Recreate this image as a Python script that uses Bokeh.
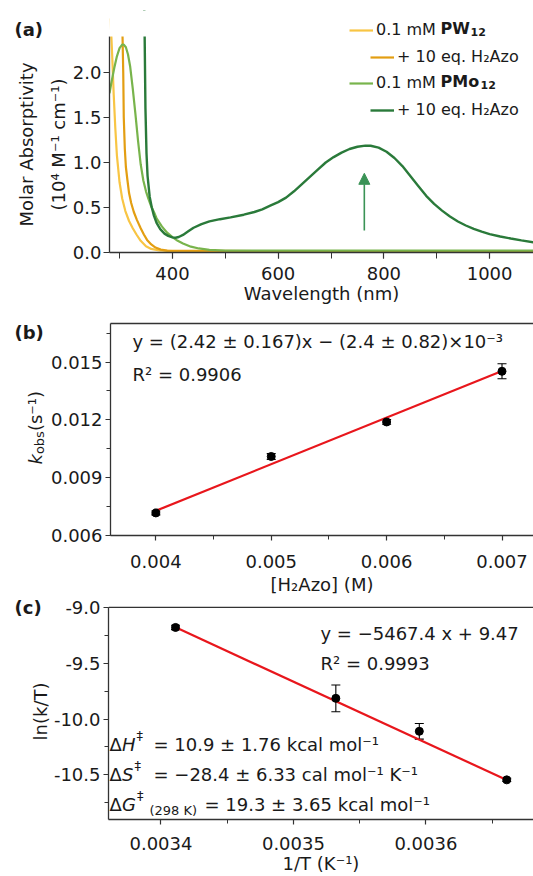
import numpy as np
from bokeh.plotting import figure
from bokeh.layouts import column, row
from bokeh.models import (ColumnDataSource, Label, Legend, LegendItem, LinearAxis, Span,
                          SingleIntervalTicker, FixedTicker, NumeralTickFormatter,
                          Range1d, Whisker, TeeHead, Arrow, NormalHead, BoxAnnotation)
from bokeh.embed import file_html
from bokeh.resources import INLINE

FONT = "DejaVu Sans"
TXT = "#1a1a1a"
AX = "#333333"

# ---------------- Panel (a) data: UV-vis spectra ----------------
wl_pw12 = [283, 286, 289, 292, 295, 300, 305, 311, 318, 325, 332, 340, 350, 360, 375, 400, 600, 800, 1000, 1083]
ab_pw12 = [2.6, 2.2, 1.75, 1.38, 1.08, 0.78, 0.6, 0.46, 0.35, 0.27, 0.2, 0.13, 0.07, 0.04, 0.022, 0.016, 0.015, 0.015, 0.015, 0.015]

wl_pw12_azo = [305, 307, 308, 310, 312, 315, 318, 322, 327, 333, 340, 346, 352, 360, 368, 378, 390, 600, 800, 1000, 1083]
ab_pw12_azo = [2.6, 2.0, 1.5, 1.15, 0.95, 0.8, 0.66, 0.55, 0.45, 0.36, 0.27, 0.2, 0.14, 0.09, 0.055, 0.032, 0.02, 0.016, 0.016, 0.016, 0.016]

wl_pmo12 = [281, 285, 290, 295, 300, 305, 308, 312, 316, 320, 325, 330, 335, 340, 345, 350, 355, 360, 365,
            370, 380, 390, 400, 410, 420, 435, 450, 470, 500, 700, 900, 1083]
ab_pmo12 = [1.77, 1.9, 2.05, 2.18, 2.27, 2.31, 2.31, 2.28, 2.2, 2.07, 1.82, 1.54, 1.24, 0.98, 0.8, 0.68, 0.59, 0.51, 0.45,
            0.38, 0.29, 0.22, 0.17, 0.13, 0.1, 0.065, 0.045, 0.03, 0.02, 0.02, 0.02, 0.02]

wl_pmo12_azo = [346, 347.5, 349, 351, 353, 357, 361, 365, 370, 377, 385, 392, 400, 406, 412, 420, 430, 440, 455,
                470, 490, 510, 535, 555, 570, 585, 600, 615, 630, 645, 660, 675, 690, 705, 720, 735, 750,
                765, 775, 790, 805, 820, 835, 850, 865, 880, 895, 910, 925, 940, 955, 970, 985, 1000,
                1020, 1040, 1060, 1083]
ab_pmo12_azo = [3.0, 2.4, 1.6, 1.1, 0.85, 0.62, 0.5, 0.41, 0.33, 0.26, 0.21, 0.185, 0.168, 0.164, 0.172, 0.195, 0.235, 0.275, 0.315,
                0.345, 0.37, 0.39, 0.42, 0.45, 0.48, 0.52, 0.56, 0.61, 0.68, 0.76, 0.84, 0.92, 1.0, 1.06, 1.11, 1.15, 1.175,
                1.187, 1.186, 1.165, 1.12, 1.05, 0.96, 0.85, 0.74, 0.63, 0.54, 0.465, 0.4, 0.345, 0.3, 0.262, 0.232, 0.205,
                0.178, 0.155, 0.135, 0.113]

a_y_max = 2.4          # top of the drawn absorbance axis
arrow_wl = 763
arrow_from = 0.245
arrow_to = 0.88

# ---------------- Panel (b) data: kobs vs [H2Azo] ----------------
conc = [0.004, 0.005, 0.006, 0.007]
kobs = [0.00717, 0.0101, 0.01189, 0.01452]
kobs_err = [0.00010, 0.00015, 0.00012, 0.00039]
fit_b_slope = 2.42
fit_b_intercept = -0.0024

# ---------------- Panel (c) data: Eyring plot ----------------
inv_T = [0.003411, 0.003532, 0.003595, 0.003661]
ln_kT = [-9.18, -9.815, -10.11, -10.545]
ln_kT_err = [0.02, 0.12, 0.07, 0.015]
fit_c_slope = -5467.4
fit_c_intercept = 9.47
c_y_min, c_y_max = -10.9, -9.0

# ---------------- Colours ----------------
C_PW = "#F8C544"
C_PW_AZO = "#E39E12"
C_PMO = "#78B44C"
C_PMO_AZO = "#2A7A3A"
C_ARROW = "#3A9356"
C_FIT = "#E8161C"


def style_axes(p, tick_out=5):
    for ax in p.xaxis + p.yaxis:
        ax.axis_line_color = AX
        ax.axis_line_width = 1.3
        ax.major_tick_line_color = AX
        ax.minor_tick_line_color = AX
        ax.major_tick_line_width = 1.2
        ax.minor_tick_line_width = 1.0
        ax.major_tick_in = 0
        ax.minor_tick_in = 0
        ax.major_tick_out = tick_out
        ax.minor_tick_out = tick_out - 1
        ax.major_label_text_font = FONT
        ax.major_label_text_font_size = "18px"
        ax.major_label_text_color = TXT
        ax.axis_label_text_font = FONT
        ax.axis_label_text_font_size = "18px"
        ax.axis_label_text_font_style = "normal"
        ax.axis_label_text_color = TXT
    p.xgrid.visible = False
    p.ygrid.visible = False
    p.outline_line_color = None
    p.background_fill_color = None
    p.border_fill_color = None


def add_top_line(p):
    top = LinearAxis(ticker=FixedTicker(ticks=[], minor_ticks=[]), major_label_text_font_size="0px",
                     axis_line_color=AX, axis_line_width=1.3, major_tick_line_color=None,
                     minor_tick_line_color=None, major_tick_out=0, minor_tick_out=0,
                     major_tick_in=0, minor_tick_in=0, major_label_standoff=0, axis_label_standoff=0)
    p.add_layout(top, "above")


def lab(p, frame, px, py, text, size=18, style="normal", color=TXT, align="left",
        baseline="alphabetic", angle=0):
    """Label placed by page pixel position; frame = (frame_left, frame_bottom) on the page."""
    L, B = frame
    p.add_layout(Label(x=px - L, y=B - py, x_units="screen", y_units="screen", text=text,
                       text_font=FONT, text_font_size=f"{size}px", text_font_style=style,
                       text_color=color, text_align=align, text_baseline=baseline,
                       angle=angle, angle_units="deg"))


def strip(width, height):
    s = figure(width=width, height=height, x_axis_type=None, y_axis_type=None,
               output_backend="svg", toolbar_location=None, min_border=0)
    s.outline_line_color = None
    s.background_fill_color = None
    s.border_fill_color = None
    return s


# =================== Panel (a) ===================
HA = 310
fa = (109, 252)
a_top = 10
a_frame_h = 252 - a_top
pa = figure(width=465, height=HA, x_range=Range1d(281, 1083),
            y_range=Range1d(0, a_y_max * a_frame_h / 216.0),
            output_backend="svg", toolbar_location=None,
            min_border_left=41, min_border_right=0, min_border_top=a_top, min_border_bottom=HA - 252)

r_pw = pa.line(wl_pw12, ab_pw12, line_color=C_PW, line_width=2.2)
r_pw_azo = pa.line(wl_pw12_azo, ab_pw12_azo, line_color=C_PW_AZO, line_width=2.2)
r_pmo = pa.line(wl_pmo12, ab_pmo12, line_color=C_PMO, line_width=2.2)
r_pmo_azo = pa.line(wl_pmo12_azo, ab_pmo12_azo, line_color=C_PMO_AZO, line_width=2.4)
# curves stop at the top of the drawn axis
pa.add_layout(BoxAnnotation(bottom=a_y_max, fill_color="white", fill_alpha=1.0, line_color=None))

pa.add_layout(Arrow(end=NormalHead(size=11, fill_color=C_ARROW, line_color=C_ARROW, line_width=1),
                    x_start=arrow_wl, y_start=arrow_from, x_end=arrow_wl, y_end=arrow_to,
                    line_color=C_ARROW, line_width=1.6))

pa.xaxis.ticker = SingleIntervalTicker(interval=200, num_minor_ticks=2)
pa.yaxis.ticker = SingleIntervalTicker(interval=0.5, num_minor_ticks=0)
pa.yaxis.formatter = NumeralTickFormatter(format="0.0")
pa.yaxis.bounds = (0, a_y_max)
pa.xaxis.axis_label = "Wavelength (nm)"
style_axes(pa, tick_out=6)
pa.yaxis.minor_tick_line_color = None
pa.xaxis.minor_tick_out = 6
pa.xaxis.major_label_standoff = 8
pa.yaxis.major_label_standoff = 2
pa.xaxis.axis_label_standoff = 0


def legend_row(p, renderer, page_x, page_y, text):
    L, B = fa
    leg = Legend(items=[LegendItem(label=text, renderers=[renderer])],
                 location=(page_x - L, B - page_y - 14), orientation="vertical",
                 glyph_width=24, glyph_height=16, label_height=16, label_width=10,
                 label_standoff=3, padding=0, margin=0, spacing=0,
                 border_line_color=None, background_fill_alpha=0,
                 label_text_font=FONT, label_text_font_size="16px", label_text_color=TXT,
                 label_text_baseline="middle")
    p.add_layout(leg)


legend_row(pa, r_pw, 349, 25, "0.1 mM")
legend_row(pa, r_pw_azo, 370, 52, "+ 10 eq. H₂Azo")
legend_row(pa, r_pmo, 349, 78, "0.1 mM")
legend_row(pa, r_pmo_azo, 370, 105, "+ 10 eq. H₂Azo")
lab(pa, fa, 440, 27.5, "PW", size=16, style="bold")
lab(pa, fa, 470, 31.5, "12", size=11, style="bold")
lab(pa, fa, 440, 80.5, "PMo", size=16, style="bold")
lab(pa, fa, 480, 84.5, "12", size=11, style="bold")

# side strip: row layout aligns its frame with the panel frame, so same frame bottom
sa = strip(68, HA)
fsa = (0, 252)
lab(sa, fsa, 14, 29, "(a)", size=18, style="bold")
lab(sa, fsa, 26, 144, "Molar Absorptivity", align="center", angle=90)
lab(sa, fsa, 58, 144, "(10⁴ M⁻¹ cm⁻¹)", align="center", angle=90)

# =================== Panel (b) ===================
B0 = HA
fb = (107, 539)
HB = 539 + 58 - B0
pb = figure(width=486, height=HB, x_range=Range1d(0.003607, 0.007273), y_range=Range1d(0.006, 0.017),
            output_backend="svg", toolbar_location=None,
            min_border_left=60, min_border_right=0, min_border_top=323 - B0,
            min_border_bottom=B0 + HB - 539)

xb = np.array([min(conc), max(conc)])
pb.line(xb, fit_b_slope * xb + fit_b_intercept, line_color=C_FIT, line_width=2.2)
src_b = ColumnDataSource(dict(x=conc, y=kobs,
                              lo=[v - e for v, e in zip(kobs, kobs_err)],
                              hi=[v + e for v, e in zip(kobs, kobs_err)]))
pb.add_layout(Whisker(base="x", upper="hi", lower="lo", source=src_b, line_color="black", line_width=1.1,
                      upper_head=TeeHead(size=9, line_color="black", line_width=1.1),
                      lower_head=TeeHead(size=9, line_color="black", line_width=1.1)))
pb.scatter("x", "y", source=src_b, size=8, fill_color="black", line_color="black")

pb.xaxis.ticker = SingleIntervalTicker(interval=0.001, num_minor_ticks=2)
pb.yaxis.ticker = SingleIntervalTicker(interval=0.003, num_minor_ticks=2)
pb.xaxis.formatter = NumeralTickFormatter(format="0.000")
pb.yaxis.formatter = NumeralTickFormatter(format="0.000")
pb.xaxis.axis_label = "[H₂Azo] (M)"
style_axes(pb)
pb.xaxis.major_label_standoff = 14
pb.yaxis.major_label_standoff = 3
pb.xaxis.axis_label_standoff = 3
add_top_line(pb)

lab(pb, fb, 129, 345, "y = (2.42 ± 0.167)x − (2.4 ± 0.82)×10⁻³")
lab(pb, fb, 129, 378, "R² = 0.9906")

sb = strip(47, HB)
fsb = (0, 539)
lab(sb, fsb, 14, 336, "(b)", size=18, style="bold")
lab(sb, fsb, 35, 468, "k", size=18, style="italic", angle=90)
lab(sb, fsb, 39, 457.6, "obs", size=13, angle=90)
lab(sb, fsb, 35, 434.6, " (s⁻¹)", size=18, angle=90)

# =================== Panel (c) ===================
C0 = B0 + HB
HC = 876 - C0
fc = (107, 823)
c_frame_top = 598
c_y_end = c_y_min + (c_y_max - c_y_min) * (823 - c_frame_top) / 216.0
pc = figure(width=483, height=HC, x_range=Range1d(0.0033604, 0.0036812), y_range=Range1d(c_y_min, c_y_end),
            output_backend="svg", toolbar_location=None,
            min_border_left=57, min_border_right=0, min_border_top=c_frame_top - C0,
            min_border_bottom=C0 + HC - 823)

pc.add_layout(Span(location=c_y_max, dimension="width", line_color=AX, line_width=1.3))
xc = np.array([min(inv_T), max(inv_T)])
pc.line(xc, fit_c_slope * xc + fit_c_intercept, line_color=C_FIT, line_width=2.2)
src_c = ColumnDataSource(dict(x=inv_T, y=ln_kT,
                              lo=[v - e for v, e in zip(ln_kT, ln_kT_err)],
                              hi=[v + e for v, e in zip(ln_kT, ln_kT_err)]))
pc.add_layout(Whisker(base="x", upper="hi", lower="lo", source=src_c, line_color="black", line_width=1.1,
                      upper_head=TeeHead(size=9, line_color="black", line_width=1.1),
                      lower_head=TeeHead(size=9, line_color="black", line_width=1.1)))
pc.scatter("x", "y", source=src_c, size=8, fill_color="black", line_color="black")

pc.xaxis.ticker = SingleIntervalTicker(interval=0.0001, num_minor_ticks=2)
pc.yaxis.ticker = SingleIntervalTicker(interval=0.5, num_minor_ticks=2)
pc.xaxis.formatter = NumeralTickFormatter(format="0.0000")
pc.yaxis.formatter = NumeralTickFormatter(format="0.0")
pc.yaxis.bounds = (c_y_min, c_y_max)
pc.xaxis.axis_label = "1/T (K⁻¹)"
style_axes(pc)
pc.xaxis.major_label_standoff = 12
pc.yaxis.major_label_standoff = 3
pc.xaxis.axis_label_standoff = 0

lab(pc, fc, 319, 637, "y = −5467.4 x + 9.47")
lab(pc, fc, 319, 667, "R² = 0.9993")

x0 = 108
lab(pc, fc, x0, 748, "Δ")
lab(pc, fc, x0 + 12.5, 748, "H", style="italic")
lab(pc, fc, x0 + 27, 739, "‡", size=13)
lab(pc, fc, 152, 748, "= 10.9 ± 1.76 kcal mol⁻¹")

lab(pc, fc, x0, 778, "Δ")
lab(pc, fc, x0 + 12.5, 778, "S", style="italic")
lab(pc, fc, x0 + 25, 769, "‡", size=13)
lab(pc, fc, 152, 778, "= −28.4 ± 6.33 cal mol⁻¹ K⁻¹")

lab(pc, fc, x0, 808, "Δ")
lab(pc, fc, x0 + 12.5, 808, "G", style="italic")
lab(pc, fc, x0 + 27.5, 799, "‡", size=13)
lab(pc, fc, 148, 814, "(298 K)", size=13)
lab(pc, fc, 203, 808, "= 19.3 ± 3.65 kcal mol⁻¹")

sc = strip(50, HC)
fsc = (0, 823)
lab(sc, fsc, 14, 611, "(c)", size=18, style="bold")
lab(sc, fsc, 39.5, 715, "ln(k/T)", align="center", angle=90)

layout = column(row(sa, pa, spacing=0), row(sb, pb, spacing=0), row(sc, pc, spacing=0), spacing=0)
open("out.html", "w").write(file_html(layout, INLINE))
